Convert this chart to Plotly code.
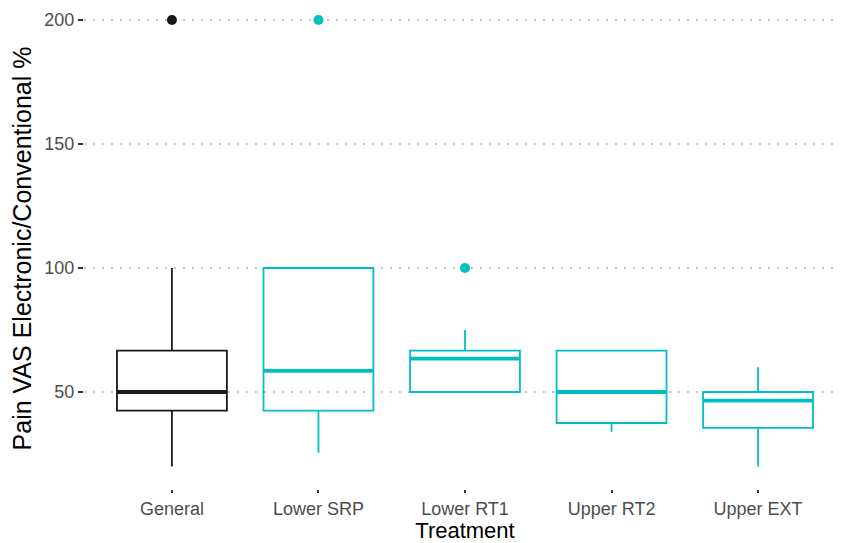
import plotly.graph_objects as go

# data
treatments = ["General", "Lower SRP", "Lower RT1", "Upper RT2", "Upper EXT"]
lower_fence = [20, 25.5, 50, 34, 20]
q1 = [42.5, 42.5, 50, 37.5, 35.5]
median = [50, 58.5, 63.5, 50, 46.5]
q3 = [66.7, 100, 66.7, 66.7, 50]
upper_fence = [100, 100, 75, 66.7, 60]
outlier_x = ["General", "Lower SRP", "Lower RT1"]
outlier_y = [200, 200, 100]

BLACK = "#1a1a1a"
TEAL = "#00BFC4"
colors = [BLACK if t == "General" else TEAL for t in treatments]
out_colors = [BLACK if t == "General" else TEAL for t in outlier_x]

fig = go.Figure()

for i, t in enumerate(treatments):
    # box + whiskers
    fig.add_trace(go.Box(
        x=[t], q1=[q1[i]], median=[median[i]], q3=[q3[i]],
        lowerfence=[lower_fence[i]], upperfence=[upper_fence[i]],
        width=0.75, whiskerwidth=0, fillcolor="rgba(0,0,0,0)",
        line=dict(color=colors[i], width=1.8),
        boxpoints=False, showlegend=False, hoverinfo="skip"))
    # thicker median line, like ggplot
    fig.add_trace(go.Box(
        x=[t], q1=[median[i]], median=[median[i]], q3=[median[i]],
        lowerfence=[median[i]], upperfence=[median[i]],
        width=0.75, whiskerwidth=0, fillcolor="rgba(0,0,0,0)",
        line=dict(color=colors[i], width=3.8),
        boxpoints=False, showlegend=False, hoverinfo="skip"))

fig.add_trace(go.Scatter(
    x=outlier_x, y=outlier_y, mode="markers",
    marker=dict(color=out_colors, size=10), showlegend=False))

# page body has an 8px margin, so the figure is a bit smaller than the window
fig.update_layout(
    width=838, height=535,
    margin=dict(l=76, r=0, t=0, b=54),
    paper_bgcolor="white", plot_bgcolor="white",
    font=dict(family="Liberation Sans, Arial, sans-serif", color="#4d4d4d"),
    showlegend=False,
)
fig.update_xaxes(
    type="category", categoryorder="array", categoryarray=treatments,
    range=[-0.6, 4.6], showgrid=False, zeroline=False, showline=False,
    automargin=False,
    ticks="outside", ticklen=3, tickwidth=1.5, tickcolor="#333333",
    tickfont=dict(size=18, color="#4d4d4d"),
    title=dict(text="Treatment", font=dict(size=22, color="black"), standoff=2),
)
fig.update_yaxes(
    range=[10.89, 204.84], tickvals=[50, 100, 150, 200],
    showgrid=True, gridcolor="#c4c4c4", gridwidth=2, griddash="2px,7px",
    zeroline=False, showline=False, automargin=False,
    ticks="outside", ticklen=5, tickwidth=1.5, tickcolor="#333333",
    tickfont=dict(size=18, color="#4d4d4d"),
    title=dict(text="Pain VAS Electronic/Conventional %",
               font=dict(size=25, color="black"), standoff=6),
)

fig.write_html("out.html")
